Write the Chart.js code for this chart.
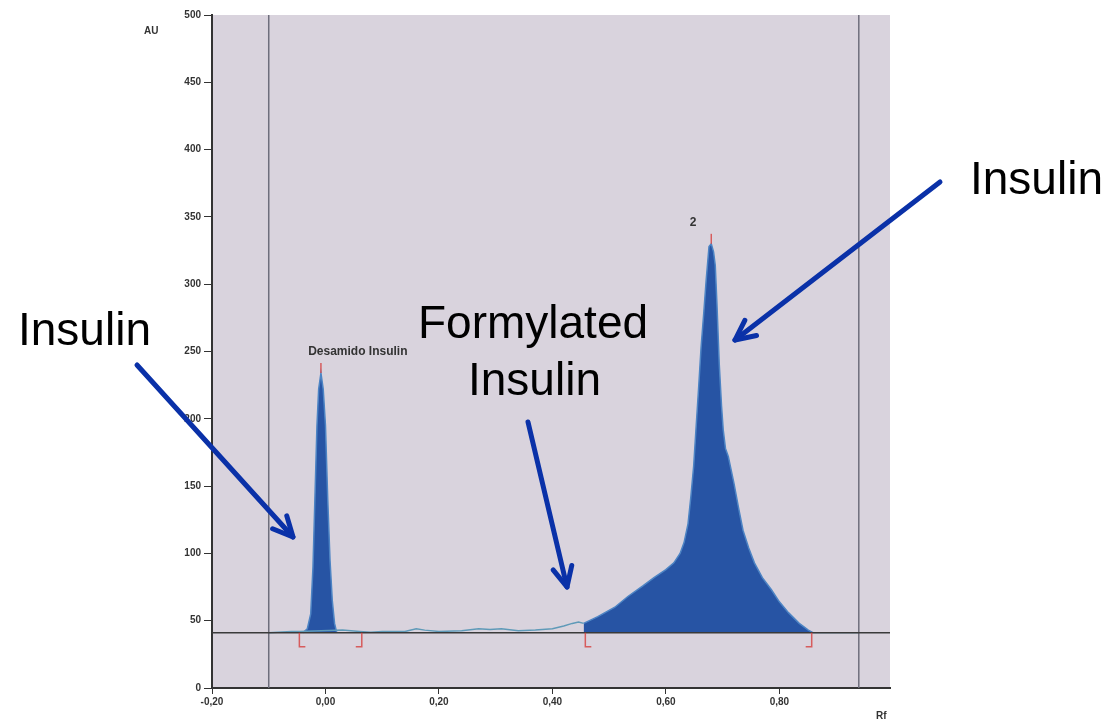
<!DOCTYPE html>
<html>
<head>
<meta charset="utf-8">
<script src="https://cdn.jsdelivr.net/npm/chart.js@4.4.1/dist/chart.umd.min.js"></script>
<style>
  html, body { margin: 0; padding: 0; background: #fff; }
  #wrap { width: 1111px; height: 723px; position: relative; }
</style>
</head>
<body>
<div id="wrap"><canvas id="myChart"></canvas></div>
<script>
// Rf / AU readings taken off the chromatogram
var peak1Rf = [-0.040, -0.032, -0.026, -0.022, -0.018, -0.015, -0.012, -0.008, -0.004, 0.000, 0.004, 0.008, 0.012, 0.016, 0.020];
var peak1AU = [41, 44, 55, 90, 150, 195, 222, 234, 222, 195, 140, 95, 65, 48, 41];

var peak2Rf = [0.455, 0.48, 0.51, 0.533, 0.56, 0.579, 0.60, 0.614, 0.625, 0.632, 0.639, 0.644, 0.649, 0.653, 0.658, 0.662, 0.667, 0.671, 0.676, 0.680,
               0.684, 0.687, 0.690, 0.694, 0.698, 0.701, 0.705, 0.710, 0.715, 0.720, 0.728, 0.736, 0.746, 0.756, 0.770, 0.786, 0.800, 0.816, 0.835, 0.851, 0.860];
var peak2AU = [48, 53, 60, 68, 76, 82, 88, 93, 100, 108, 122, 142, 165, 192, 225, 253, 280, 303, 328, 330,
               324, 314, 285, 241, 210, 192, 178, 172, 162, 152, 134, 117, 104, 93, 82, 73, 64, 56, 48, 43, 41];

var traceRf = [-0.10, -0.06, -0.045, 0.03, 0.06, 0.08, 0.10, 0.14, 0.16, 0.175, 0.20, 0.24, 0.27, 0.29, 0.31, 0.34, 0.37, 0.40, 0.42, 0.435, 0.446, 0.455];
var traceAU = [41, 42, 42, 43, 42, 41.5, 42, 42, 44, 43, 42, 42.5, 44, 43.5, 44, 42.5, 43, 44, 46, 48, 49, 48];

var tailRf = [0.86, 0.90, 0.94];
var tailAU = [41, 41, 41];

var baselineAU = 41;
var windowRf = [-0.10, 0.94];
var markerRf = [-0.046, 0.064, 0.458, 0.857];
var markerSide = ['start', 'end', 'start', 'end'];

var peakLabels = ['Desamido Insulin', '2'];
var peakLabelRf = [0.057, 0.648];
var peakLabelAU = [250, 346];

var xTickValues = [-0.20, 0.00, 0.20, 0.40, 0.60, 0.80];
var xTickLabels = ['-0,20', '0,00', '0,20', '0,40', '0,60', '0,80'];
var yTickLabels = ['0', '50', '100', '150', '200', '250', '300', '350', '400', '450', '500'];

function pts(xs, ys) {
  return xs.map(function (x, i) { return { x: x, y: ys[i] }; });
}

var overlay = {
  id: 'overlay',
  beforeDraw: function (chart) {
    var c = chart.ctx, a = chart.chartArea;
    c.save();
    c.fillStyle = '#d9d3dd';
    c.fillRect(a.left, a.top, a.right - a.left, a.bottom - a.top);
    c.restore();
  },
  afterDatasetsDraw: function (chart) {
    var c = chart.ctx, xs = chart.scales.x, ys = chart.scales.y;
    var by = ys.getPixelForValue(baselineAU);
    c.save();
    c.strokeStyle = 'rgba(214,70,70,0.85)';
    c.lineWidth = 1.5;
    markerRf.forEach(function (rf, i) {
      var px = xs.getPixelForValue(rf);
      c.beginPath();
      c.moveTo(px, by);
      c.lineTo(px, by + 14);
      c.lineTo(px + (markerSide[i] === 'start' ? 6 : -6), by + 14);
      c.stroke();
    });
    // apex ticks
    [[peak1Rf, peak1AU], [peak2Rf, peak2AU]].forEach(function (p) {
      var m = Math.max.apply(null, p[1]);
      var rf = p[0][p[1].indexOf(m)];
      var px = xs.getPixelForValue(rf);
      var py = ys.getPixelForValue(m);
      c.beginPath();
      c.moveTo(px, py);
      c.lineTo(px, py - 10);
      c.stroke();
    });
    c.fillStyle = '#333';
    c.font = 'bold 12px "Liberation Sans", Arial, sans-serif';
    c.textAlign = 'center';
    c.textBaseline = 'middle';
    peakLabels.forEach(function (t, i) {
      c.fillText(t, xs.getPixelForValue(peakLabelRf[i]), ys.getPixelForValue(peakLabelAU[i]));
    });
    c.restore();
  },
  afterDraw: function (chart) {
    var c = chart.ctx;
    c.save();
    c.fillStyle = '#333';
    c.font = 'bold 10px "Liberation Sans", Arial, sans-serif';
    c.textAlign = 'left';
    c.textBaseline = 'middle';
    c.fillText('AU', 144, 31);
    c.fillText('Rf', 876, 716);

    c.fillStyle = '#000';
    c.font = '46px "Liberation Sans", Arial, sans-serif';
    c.textBaseline = 'alphabetic';
    c.fillText('Insulin', 18, 345);
    c.fillText('Insulin', 970, 194);
    c.fillText('Formylated', 418, 338);
    c.fillText('Insulin', 468, 395);

    var arrows = [[137, 365, 293, 537], [528, 422, 567, 587], [940, 182, 735, 340]];
    c.strokeStyle = '#0a31a8';
    c.lineWidth = 5;
    c.lineCap = 'round';
    c.lineJoin = 'round';
    arrows.forEach(function (ar) {
      var ang = Math.atan2(ar[3] - ar[1], ar[2] - ar[0]);
      c.beginPath();
      c.moveTo(ar[0], ar[1]);
      c.lineTo(ar[2], ar[3]);
      c.stroke();
      c.beginPath();
      c.moveTo(ar[2] - 22 * Math.cos(ang - 0.45), ar[3] - 22 * Math.sin(ang - 0.45));
      c.lineTo(ar[2], ar[3]);
      c.lineTo(ar[2] - 22 * Math.cos(ang + 0.45), ar[3] - 22 * Math.sin(ang + 0.45));
      c.stroke();
    });
    c.restore();
  }
};

var ctx = document.getElementById('myChart').getContext('2d');
var chart = new Chart(ctx, {
  type: 'scatter',
  data: {
    datasets: [
      {
        // baseline
        data: pts([-0.2, 0.995], [baselineAU, baselineAU]),
        showLine: true, borderColor: '#3a3a3a', borderWidth: 1.5, pointRadius: 0
      },
      {
        data: pts([windowRf[0], windowRf[0]], [0, 500]),
        showLine: true, borderColor: '#6e6e7c', borderWidth: 1.5, pointRadius: 0
      },
      {
        data: pts([windowRf[1], windowRf[1]], [0, 500]),
        showLine: true, borderColor: '#6e6e7c', borderWidth: 1.5, pointRadius: 0
      },
      {
        data: pts(traceRf, traceAU),
        showLine: true, borderColor: '#5f9ab8', borderWidth: 1.5, pointRadius: 0
      },
      {
        data: pts(tailRf, tailAU),
        showLine: true, borderColor: '#5f9ab8', borderWidth: 1, pointRadius: 0
      },
      {
        data: pts(peak1Rf, peak1AU),
        showLine: true, borderColor: '#4d84c4', borderWidth: 1.5, pointRadius: 0,
        backgroundColor: '#2754a4', fill: { value: baselineAU }
      },
      {
        data: pts(peak2Rf, peak2AU),
        showLine: true, borderColor: '#4d84c4', borderWidth: 1.5, pointRadius: 0,
        backgroundColor: '#2754a4', fill: { value: baselineAU }
      }
    ]
  },
  options: {
    responsive: true,
    maintainAspectRatio: false,
    animation: false,
    layout: { padding: { top: 15, right: 221, left: 0, bottom: 0 } },
    plugins: { legend: { display: false }, tooltip: { enabled: false } },
    scales: {
      x: {
        type: 'linear', min: -0.2, max: 0.995,
        afterFit: function (s) { s.height = 35; },
        afterBuildTicks: function (s) { s.ticks = xTickValues.map(function (v) { return { value: v }; }); },
        border: { color: '#333', width: 2 },
        grid: { drawOnChartArea: false, drawTicks: true, tickLength: 6, color: '#333' },
        ticks: {
          color: '#333', padding: 2,
          font: { family: '"Liberation Sans", Arial, sans-serif', size: 10, weight: 'bold' },
          callback: function (v, i) { return xTickLabels[i]; }
        }
      },
      y: {
        min: 0, max: 500,
        afterFit: function (s) { s.width = 212; },
        border: { color: '#333', width: 2 },
        grid: { drawOnChartArea: false, drawTicks: true, tickLength: 8, color: '#333' },
        ticks: {
          stepSize: 50, color: '#333', padding: 3,
          font: { family: '"Liberation Sans", Arial, sans-serif', size: 10, weight: 'bold' },
          callback: function (v, i) { return yTickLabels[i]; }
        }
      }
    }
  },
  plugins: [overlay]
});
</script>
</body>
</html>
